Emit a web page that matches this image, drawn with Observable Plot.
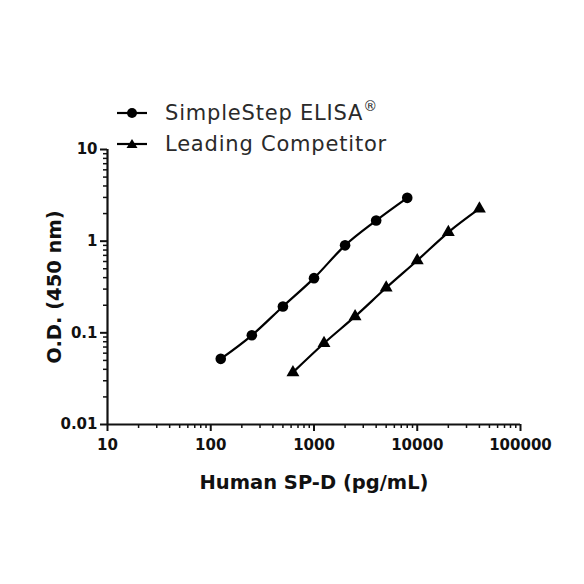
<!DOCTYPE html>
<html>
<head>
<meta charset="utf-8">
<script src="https://cdn.jsdelivr.net/npm/d3@7"></script>
<script src="https://cdn.jsdelivr.net/npm/@observablehq/plot@0.6"></script>
<style>
  html, body { margin: 0; padding: 0; background: #fff; }
  #wrap { position: relative; width: 584px; height: 584px; font-family: "DejaVu Sans", sans-serif; }
  #legend { position: absolute; left: 114px; top: 97px; font-size: 21px; letter-spacing: 0.8px; font-weight: normal; color: #2a2a2a; }
  .row { display: flex; align-items: center; height: 31px; }
  .row svg { margin-right: 15px; }
  sup { font-size: 14px; vertical-align: 9px; line-height: 0; }
</style>
</head>
<body>
<div id="wrap">
  <div id="legend">
    <div class="row"><svg width="36" height="14"><line x1="3" y1="7" x2="33" y2="7" stroke="#000" stroke-width="2.2"/><circle cx="18" cy="7" r="5" fill="#000"/></svg><span>SimpleStep ELISA<sup>®</sup></span></div>
    <div class="row"><svg width="36" height="14"><line x1="3" y1="7" x2="33" y2="7" stroke="#000" stroke-width="2.2"/><path d="M18,2 L23.5,11 L12.5,11 Z" fill="#000"/></svg><span>Leading Competitor</span></div>
  </div>
</div>
<script>
// Data
const simpleStepConc = [125, 250, 500, 1000, 2000, 4000, 8000];
const simpleStepOD   = [0.052, 0.094, 0.194, 0.395, 0.90, 1.68, 2.97];
const competitorConc = [625, 1250, 2500, 5000, 10000, 20000, 40000];
const competitorOD   = [0.037, 0.077, 0.151, 0.31, 0.616, 1.25, 2.26];
const xTicks = [10, 100, 1000, 10000, 100000];
const yTicks = [0.01, 0.1, 1, 10];

const ss = simpleStepConc.map((c, i) => ({x: c, y: simpleStepOD[i]}));
const comp = competitorConc.map((c, i) => ({x: c, y: competitorOD[i]}));

const minor = (lo, hi) => {
  const out = [];
  for (let d = lo; d < hi; d *= 10) for (let k = 2; k <= 9; k++) out.push(d * k);
  return out;
};
const xMinor = minor(10, 100000);
const yMinor = minor(0.01, 10);

const font = '"DejaVu Sans", sans-serif';

const chart = Plot.plot({
  width: 584,
  height: 584,
  marginLeft: 107,
  marginRight: 64,
  marginTop: 149,
  marginBottom: 160,
  style: {fontFamily: font, fontSize: "15px", fontWeight: "bold", color: "#111", background: "transparent"},
  x: {type: "log", domain: [10, 100000]},
  y: {type: "log", domain: [0.01, 10]},
  marks: [
    Plot.axisX({ticks: xMinor, tickSize: 4, text: null, label: null, strokeWidth: 1.5}),
    Plot.axisY({ticks: yMinor, tickSize: 4, text: null, label: null, strokeWidth: 1.5}),
    Plot.axisX({ticks: xTicks, tickSize: 7, tickPadding: 8, strokeWidth: 2, tickFormat: d => String(d),
      fontSize: 15, label: "Human SP-D (pg/mL)", labelAnchor: "center", labelOffset: 64, labelArrow: "none"}),
    Plot.axisY({ticks: yTicks, tickSize: 7, tickPadding: 3, strokeWidth: 2, tickFormat: d => String(d),
      fontSize: 15, label: "O.D. (450 nm)", labelAnchor: "center", labelOffset: 60, labelArrow: "none"}),
    Plot.ruleX([10], {strokeWidth: 2.2}),
    Plot.ruleY([0.01], {strokeWidth: 2.2}),
    Plot.line(ss, {x: "x", y: "y", stroke: "#000", strokeWidth: 2.2, curve: "monotone-x"}),
    Plot.dot(ss, {x: "x", y: "y", r: 5.3, fill: "#000", symbol: "circle"}),
    Plot.line(comp, {x: "x", y: "y", stroke: "#000", strokeWidth: 2.2, curve: "monotone-x"}),
    Plot.dot(comp, {x: "x", y: "y", r: 4.8, fill: "#000", symbol: "triangle"})
  ]
});
chart.style.position = "absolute";
chart.style.left = "0";
chart.style.top = "0";
chart.querySelectorAll("g[aria-label='x-axis label'] text, g[aria-label='y-axis label'] text").forEach(t => t.style.fontSize = "19.5px");
document.getElementById("wrap").prepend(chart);
</script>
</body>
</html>
